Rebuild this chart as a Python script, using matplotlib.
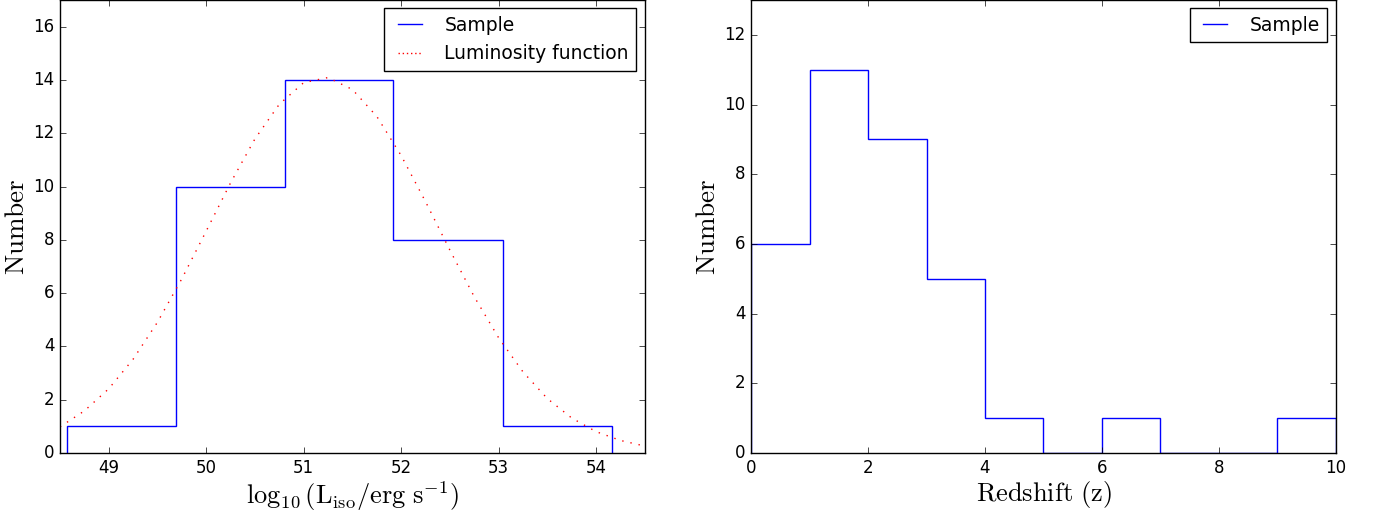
import matplotlib
matplotlib.use("Agg")
import matplotlib.pyplot as plt
from matplotlib.lines import Line2D

plt.style.use("classic")
plt.rcParams["mathtext.fontset"] = "cm"
plt.rcParams["figure.facecolor"] = "white"
plt.rcParams["savefig.facecolor"] = "white"

# luminosity histogram
lum_edges = [48.57, 49.69, 50.81, 51.92, 53.04, 54.16]
lum_counts = [1, 10, 14, 8, 1]

# luminosity function curve
lf_x = [48.5, 48.75, 49.0, 49.25, 49.5, 49.75, 50.0, 50.25, 50.5, 50.75,
        51.0, 51.25, 51.5, 51.75, 52.0, 52.25, 52.5, 52.75, 53.0, 53.25,
        53.5, 53.75, 54.0, 54.25, 54.5]
lf_y = [0.98, 1.58, 2.41, 3.52, 4.91, 6.54, 8.33, 10.14, 11.79, 13.09,
        13.90, 14.09, 13.64, 12.63, 11.16, 9.43, 7.61, 5.86, 4.32, 3.04,
        2.04, 1.31, 0.80, 0.47, 0.26]

# redshift histogram
z_edges = [0, 1, 2, 3, 4, 5, 6, 7, 8, 9, 10]
z_counts = [6, 11, 9, 5, 1, 0, 1, 0, 0, 1]

dots = (0, (1, 5))

fig = plt.figure(figsize=(13.73, 5.18), dpi=100)
ax1 = fig.add_axes([0.0437, 0.1255, 0.426, 0.8745])
ax2 = fig.add_axes([0.547, 0.1255, 0.426, 0.8745])

ax1.stairs(lum_counts, lum_edges, color="b", linewidth=1.0)
ax1.plot(lf_x, lf_y, color="r", linestyle=dots, linewidth=1.0)
ax1.set_xlim(48.5, 54.5)
ax1.set_ylim(0, 17)
ax1.set_xticks([49, 50, 51, 52, 53, 54])
ax1.set_yticks(range(0, 17, 2))
ax1.set_xlabel(r"$\log_{10}(\mathrm{L_{iso}/erg\ s^{-1}})$", fontsize=19, labelpad=2)
ax1.set_ylabel(r"$\mathrm{Number}$", fontsize=19.5, labelpad=2)
h1 = [Line2D([], [], color="b"), Line2D([], [], color="r", linestyle=(0, (1, 2)))]
ax1.legend(h1, ["Sample", "Luminosity function"], loc="upper right",
           fontsize=13.5, numpoints=2, borderaxespad=0.45,
           handlelength=1.9, handletextpad=0.9)

ax2.stairs(z_counts, z_edges, color="b", linewidth=1.0)
ax2.set_xlim(0, 10)
ax2.set_ylim(0, 13)
ax2.set_xticks(range(0, 11, 2))
ax2.set_yticks(range(0, 13, 2))
ax2.set_xlabel(r"$\mathrm{Redshift\ (z)}$", fontsize=19, labelpad=2)
ax2.set_ylabel(r"$\mathrm{Number}$", fontsize=19.5, labelpad=2)
ax2.legend([Line2D([], [], color="b")], ["Sample"], loc="upper right",
           fontsize=13.5, borderaxespad=0.45,
           handlelength=1.9, handletextpad=0.9)

for ax in (ax1, ax2):
    ax.tick_params(labelsize=12)

fig.savefig("out.png", dpi=100)
plt.close(fig)
